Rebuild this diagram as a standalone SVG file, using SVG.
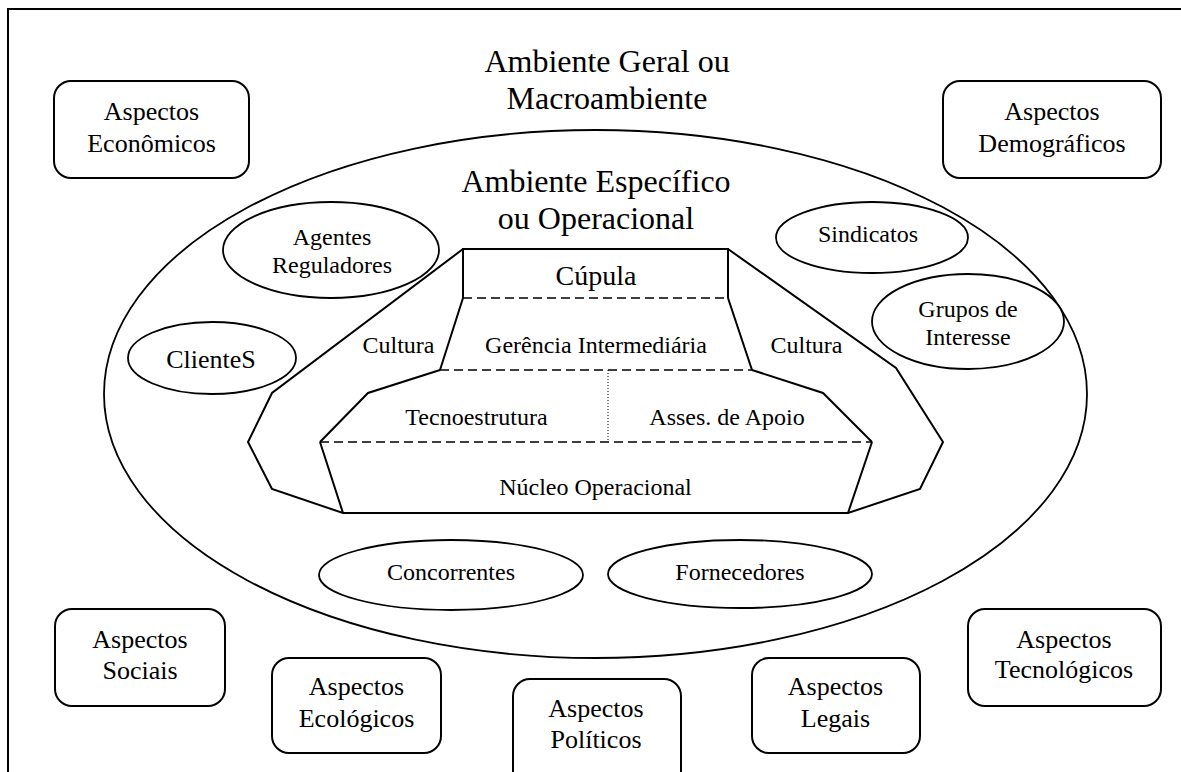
<svg xmlns="http://www.w3.org/2000/svg" width="1181" height="772" viewBox="0 0 1181 772">
  <style>
    text { font-family: "Liberation Serif", "Times New Roman", serif; fill: #000; text-anchor: middle; }
    .box { fill: #fff; stroke: #000; stroke-width: 2; }
    .oval { fill: #fff; stroke: #000; stroke-width: 1.8; }
    .edge { fill: none; stroke: #000; stroke-width: 2; stroke-linejoin: miter; }
    .dash { fill: none; stroke: #000; stroke-width: 1.5; stroke-dasharray: 9 5; }
    .dot { fill: none; stroke: #000; stroke-width: 1; stroke-dasharray: 1 2; }
    .t26 { font-size: 26px; }
    .t24 { font-size: 24px; }
    .t32 { font-size: 32px; }
  </style>
  <rect width="1181" height="772" fill="#fff"/>
  <!-- frame -->
  <path d="M8,772 V9 H1181" fill="none" stroke="#000" stroke-width="2"/>

  <!-- general environment -->
  <g id="macroambiente">
    <text class="t32" x="607" y="72">Ambiente Geral ou</text>
    <text class="t32" x="607" y="109">Macroambiente</text>
  </g>

  <g id="aspectos-economicos">
    <rect class="box" x="54" y="81" width="195" height="97" rx="17"/>
    <text class="t26" x="151.5" y="120">Aspectos</text>
    <text class="t26" x="151.5" y="152">Econômicos</text>
  </g>
  <g id="aspectos-demograficos">
    <rect class="box" x="943" y="81" width="218" height="97" rx="17"/>
    <text class="t26" x="1052" y="120">Aspectos</text>
    <text class="t26" x="1052" y="152">Demográficos</text>
  </g>
  <g id="aspectos-sociais">
    <rect class="box" x="55" y="609" width="170" height="97" rx="17"/>
    <text class="t26" x="140" y="648">Aspectos</text>
    <text class="t26" x="140" y="679">Sociais</text>
  </g>
  <g id="aspectos-ecologicos">
    <rect class="box" x="272" y="658" width="169" height="95" rx="17"/>
    <text class="t26" x="356.5" y="695">Aspectos</text>
    <text class="t26" x="356.5" y="727">Ecológicos</text>
  </g>
  <g id="aspectos-politicos">
    <rect class="box" x="513" y="679" width="168" height="110" rx="17"/>
    <text class="t26" x="596" y="717">Aspectos</text>
    <text class="t26" x="596" y="748">Políticos</text>
  </g>
  <g id="aspectos-legais">
    <rect class="box" x="752" y="658" width="168" height="95" rx="17"/>
    <text class="t26" x="835.5" y="695">Aspectos</text>
    <text class="t26" x="835.5" y="727">Legais</text>
  </g>
  <g id="aspectos-tecnologicos">
    <rect class="box" x="968" y="609" width="193" height="97" rx="17"/>
    <text class="t26" x="1064" y="648">Aspectos</text>
    <text class="t26" x="1064" y="678">Tecnológicos</text>
  </g>

  <!-- specific environment -->
  <g id="ambiente-especifico">
    <ellipse class="oval" cx="595.5" cy="394" rx="491.5" ry="264" fill="none" style="fill:none"/>
    <text class="t32" x="596" y="192">Ambiente Específico</text>
    <text class="t32" x="596" y="229">ou Operacional</text>
  </g>

  <g id="agentes-reguladores">
    <ellipse class="oval" cx="331" cy="250" rx="108" ry="48"/>
    <text class="t24" x="332" y="245">Agentes</text>
    <text class="t24" x="332" y="273">Reguladores</text>
  </g>
  <g id="clientes">
    <ellipse class="oval" cx="212" cy="358" rx="84" ry="36"/>
    <text class="t26" x="211" y="368">ClienteS</text>
  </g>
  <g id="sindicatos">
    <ellipse class="oval" cx="872" cy="237.5" rx="96" ry="35.5"/>
    <text class="t24" x="868" y="242">Sindicatos</text>
  </g>
  <g id="grupos-interesse">
    <ellipse class="oval" cx="968" cy="321.5" rx="96" ry="47.5"/>
    <text class="t24" x="968" y="317">Grupos de</text>
    <text class="t24" x="968" y="345">Interesse</text>
  </g>
  <g id="concorrentes">
    <ellipse class="oval" cx="451" cy="575" rx="132" ry="35"/>
    <text class="t24" x="451" y="580">Concorrentes</text>
  </g>
  <g id="fornecedores">
    <ellipse class="oval" cx="740" cy="574" rx="132" ry="34"/>
    <text class="t24" x="740" y="580">Fornecedores</text>
  </g>

  <!-- organisation structure -->
  <g id="cultura">
    <path class="edge" d="M463,249 L272,393 L248,442 L272,489 L343,513 L848,513 L920,489 L943,442 L896,368 L728,249"/>
    <text class="t24" x="398.5" y="353">Cultura</text>
    <text class="t24" x="806.5" y="353">Cultura</text>
  </g>
  <g id="cupula">
    <path class="edge" d="M463,298 V249 H728 V298"/>
    <line class="dash" x1="463" y1="298" x2="728" y2="298"/>
    <text class="t26" x="596" y="285" style="font-size:28px">Cúpula</text>
  </g>
  <g id="gerencia-intermediaria">
    <path class="edge" d="M463,298 L440,370 M728,298 L752,370"/>
    <line class="dash" x1="440" y1="370" x2="752" y2="370"/>
    <text class="t24" x="596" y="353">Gerência Intermediária</text>
  </g>
  <g id="tecnoestrutura">
    <path class="edge" d="M440,370 L368,393 L320,442"/>
    <text class="t24" x="476.5" y="425">Tecnoestrutura</text>
  </g>
  <g id="assessoria-apoio">
    <path class="edge" d="M752,370 L823,393 L872,442"/>
    <text class="t24" x="727" y="425">Asses. de Apoio</text>
  </g>
  <g id="connectors">
    <line class="dot" x1="608" y1="370" x2="608" y2="442"/>
    <line class="dash" x1="320" y1="442" x2="872" y2="442"/>
  </g>
  <g id="nucleo-operacional">
    <path class="edge" d="M320,442 L343,513 M872,442 L848,513"/>
    <text class="t24" x="595.5" y="495">Núcleo Operacional</text>
  </g>
</svg>
